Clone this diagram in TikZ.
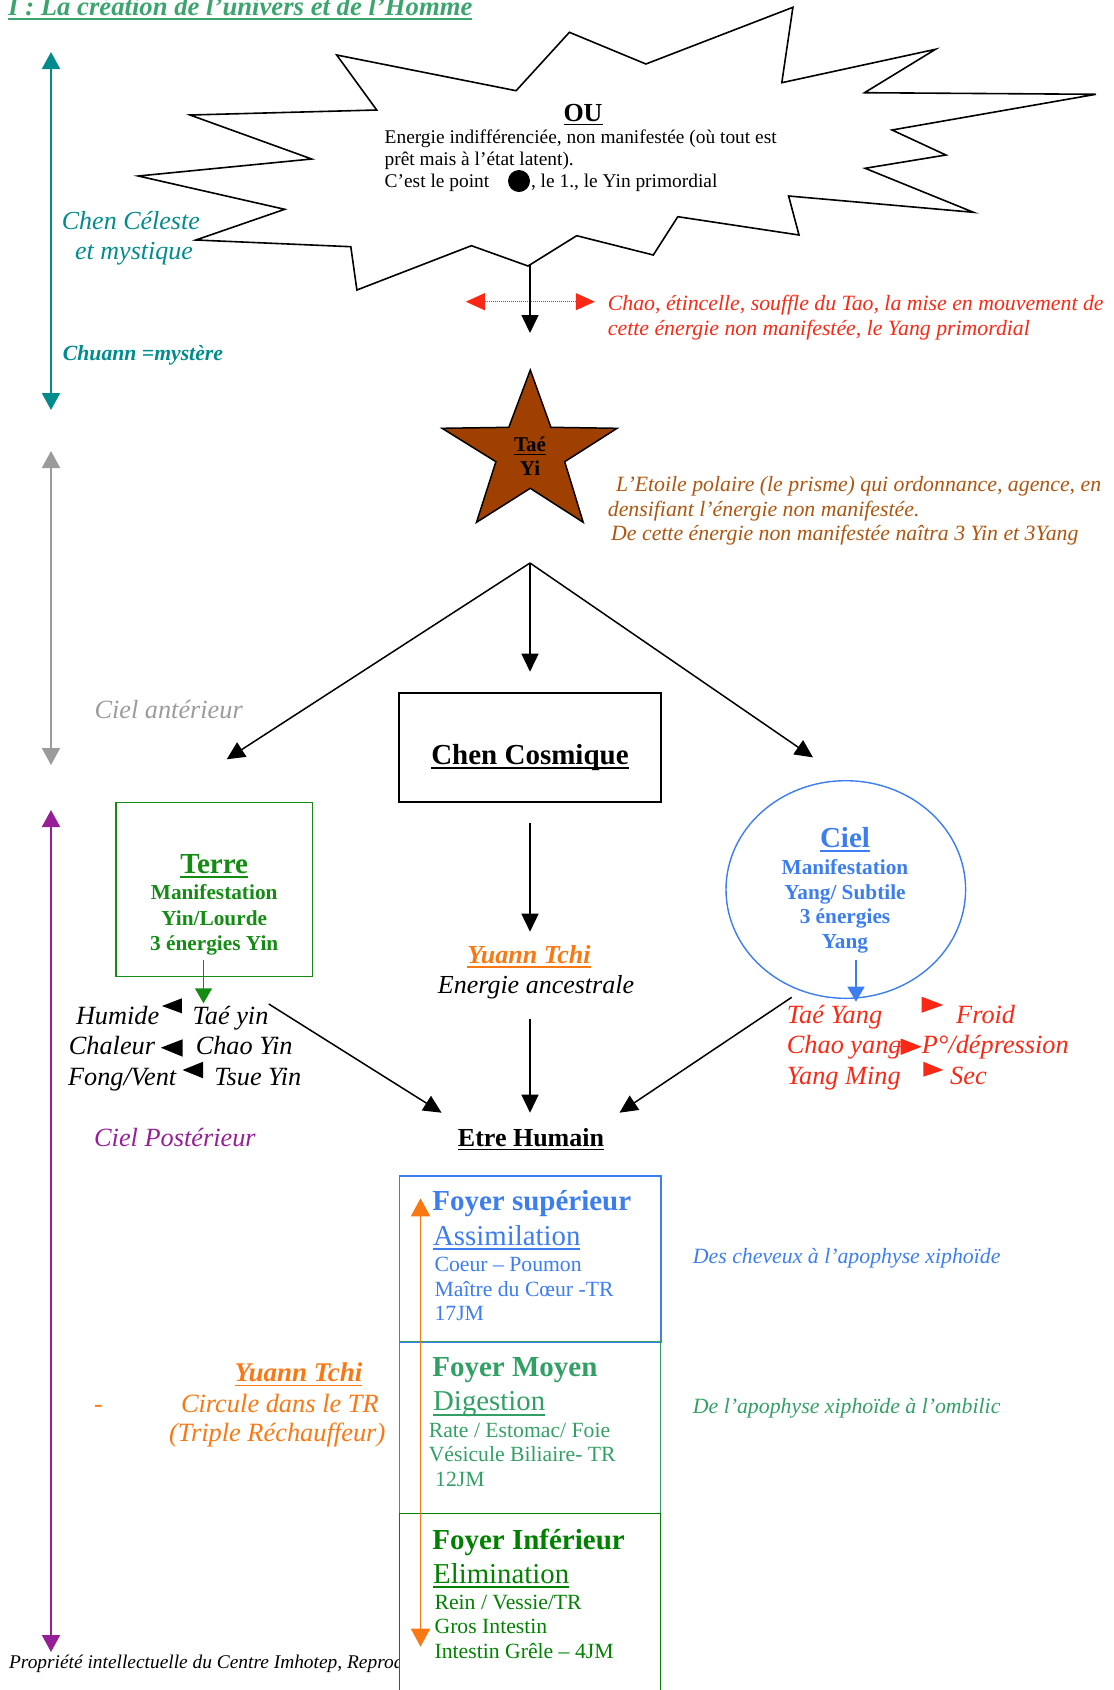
\documentclass[tikz,border=0pt]{standalone}
\usepackage{fontspec}
\setmainfont{Liberation Serif}
\usetikzlibrary{arrows.meta,shapes.geometric}
\definecolor{titlegreen}{RGB}{60,165,110}
\definecolor{teal1}{RGB}{0,140,140}
\definecolor{gray1}{RGB}{155,155,155}
\definecolor{purple1}{RGB}{150,30,150}
\definecolor{red1}{RGB}{250,40,20}
\definecolor{brown1}{RGB}{175,85,15}
\definecolor{starfill}{RGB}{160,64,0}
\definecolor{orange1}{RGB}{250,120,20}
\definecolor{green1}{RGB}{20,140,20}
\definecolor{green2}{RGB}{0,130,0}
\definecolor{blue1}{RGB}{60,125,240}
\definecolor{sea1}{RGB}{50,160,100}
\newcommand{\myul}[1]{\setbox0\hbox{#1}\rlap{\rule[-0.17em]{\wd0}{0.06em}}\box0}
\newcommand{\fs}[1]{\fontsize{#1}{#1}\selectfont}
\tikzset{
  txt/.style={inner sep=0pt, anchor=base west},
  ctxt/.style={inner sep=0pt, anchor=base},
  arr/.style={line width=1.5pt, -{Triangle[length=18pt,width=17pt]}},
  vside/.style={line width=2pt, {Triangle[length=17pt,width=18pt]}-{Triangle[length=17pt,width=18pt]}},
}
\begin{document}
\begin{tikzpicture}[x=1pt,y=-1pt]
\useasboundingbox (0,0) rectangle (1114,1690);

% title
\node[txt, text=titlegreen] (title) at (8,15) {\fs{26.7}\bfseries\itshape\myul{I : La création de l’univers et de l’Homme}};

% left vertical arrows
\coordinate (tealT) at (51,52); \coordinate (tealB) at (51,410);
\draw[vside, teal1] (tealT) -- (tealB);
\coordinate (grayT) at (51,451); \coordinate (grayB) at (51,765);
\draw[vside, gray1] (grayT) -- (grayB);
\coordinate (purT) at (51,810); \coordinate (purB) at (51,1652);
\draw[vside, purple1] (purT) -- (purB);

\node[txt, text=teal1] (chenc1) at (61.7,229) {\fs{26}\itshape Chen Céleste};
\node[txt, text=teal1] (chenc2) at (75,259.3) {\fs{26}\itshape et mystique};
\node[txt, text=teal1] (chuann) at (62.7,360) {\fs{21.7}\bfseries\itshape Chuann =mystère};
\node[txt, text=gray1] (cielant) at (94.3,718) {\fs{26.3}\itshape Ciel antérieur};
\node[txt, text=purple1] (cielpost) at (94,1146) {\fs{26.3}\itshape Ciel Postérieur};

% starburst
\draw[line width=1.6pt, fill=white, line join=miter]
  (336.7,55) -- (516.1,90.7) -- (569.4,32.3) -- (645.9,64) -- (792.9,7.3) -- (781.8,82.7)
  -- (935.5,49.3) -- (864.5,92.7) -- (1095.9,94.3) -- (892,130) -- (945.9,155) -- (865.1,168.3)
  -- (973.5,212.3) -- (788.6,196) -- (799,235) -- (677.8,216.7) -- (653.3,255) -- (576.7,235.7)
  -- (528,266) -- (471.4,245.7) -- (356.9,290) -- (350.8,246.7) -- (195.9,240) -- (284.7,209.3)
  -- (138.3,176) -- (311.7,159) -- (190,115) -- (376.7,110) -- cycle;
\coordinate (ouB) at (530,264);
\node[ctxt] (ou) at (583,121) {\fs{26}\bfseries\myul{OU}};
\node[txt] (ou1) at (384.5,143.3) {\fs{19.4}Energie indifférenciée, non manifestée (où tout est};
\node[txt] (ou2) at (384.5,165.7) {\fs{19.4}prêt mais à l’état latent).};
\node[txt] (ou3) at (384.5,187.7) {\fs{19.4}C’est le point};
\fill (519,181) circle (11);
\node[txt] (ou4) at (530.8,187.7) {\fs{19.4}, le 1., le Yin primordial};

% red dotted double arrow
\coordinate (rdL) at (465.8,301.7); \coordinate (rdR) at (594.8,301.7);
\draw[red1, line width=1pt, densely dotted, {Triangle[length=19pt,width=17pt]}-{Triangle[length=19pt,width=17pt]}] (rdL) -- (rdR);
\coordinate (ouArr) at (530,333);
\draw[arr] (ouB) -- (ouArr);
\node[txt, text=red1] (chao1) at (607.7,310) {\fs{21.8}\itshape Chao, étincelle, souffle du Tao, la mise en mouvement de};
\node[txt, text=red1] (chao2) at (607.7,335) {\fs{21.8}\itshape cette énergie non manifestée, le Yang primordial};

% star
\draw[line width=1.5pt, fill=starfill, line join=miter]
  (530.3,370) -- (550.9,427.3) -- (617.1,428.3) -- (564.7,461.7) -- (583.2,522.3)
  -- (530.3,488.3) -- (476.5,522.3) -- (495.9,461.7) -- (442.1,428.3) -- (508.8,427.3) -- cycle;
\node[ctxt] (tae) at (530,451.7) {\fs{21}\bfseries\myul{Taé}};
\node[ctxt] (yi) at (530,475) {\fs{21}\bfseries Yi};
\node[txt, text=brown1] (etoile1) at (616,491) {\fs{21.8}\itshape L’Etoile polaire (le prisme) qui ordonnance, agence, en};
\node[txt, text=brown1] (etoile2) at (607.7,516) {\fs{21.8}\itshape densifiant l’énergie non manifestée.};
\node[txt, text=brown1] (etoile3) at (611,540) {\fs{21.8}\itshape De cette énergie non manifestée naîtra 3 Yin et 3Yang};

% branches
\coordinate (apex) at (530,563);
\coordinate (tipL) at (226.7,759.3);
\coordinate (tipM) at (530,671.7);
\coordinate (tipR) at (813,757.4);
\draw[arr] (apex) -- (tipL);
\draw[arr] (apex) -- (tipM);
\draw[arr] (apex) -- (tipR);

% Chen Cosmique
\node[draw, line width=1.5pt, minimum width=262pt, minimum height=109pt, inner sep=0pt] (chen) at (530,747.7) {};
\node[ctxt] (chent) at (530,764) {\fs{29}\bfseries\myul{Chen Cosmique}};
\coordinate (chenB) at (530,822.7);
\coordinate (yuannT) at (530,931.7);
\draw[arr] (chenB) -- (yuannT);
\node[ctxt, text=orange1] (yuann) at (529,963.3) {\fs{26}\bfseries\itshape\myul{Yuann Tchi}};
\node[ctxt] (ancest) at (536,993) {\fs{26}\itshape Energie ancestrale};
\coordinate (ancB) at (530,1018.7);
\coordinate (humT) at (530,1112.7);
\draw[arr] (ancB) -- (humT);

% Terre
\node[draw=green1, line width=1.4pt, minimum width=196.2pt, minimum height=174pt, inner sep=0pt] (terre) at (214.2,889.7) {};
\node[ctxt, text=green1] (terre1) at (214.2,873) {\fs{29}\bfseries\myul{Terre}};
\node[ctxt, text=green1] (terre2) at (214.2,899.3) {\fs{21.3}\bfseries Manifestation};
\node[ctxt, text=green1] (terre3) at (214.2,925) {\fs{21.3}\bfseries Yin/Lourde};
\node[ctxt, text=green1] (terre4) at (214.2,950) {\fs{21.3}\bfseries 3 énergies Yin};
\coordinate (gA) at (203.5,960); \coordinate (gB) at (203.5,1003.3);
\draw[green1, line width=1.4pt, -{Triangle[length=15pt,width=17pt]}] (gA) -- (gB);

\node[txt] (humide) at (75.8,1024) {\fs{26.3}\itshape Humide};
\node[txt] (taeyin) at (192.5,1024) {\fs{26.3}\itshape Taé yin};
\node[txt] (chaleur) at (68.7,1054) {\fs{26.3}\itshape Chaleur};
\node[txt] (chaoyin) at (195.6,1054) {\fs{26.3}\itshape Chao Yin};
\node[txt] (fong) at (67.9,1085) {\fs{26.3}\itshape Fong/Vent};
\node[txt] (tsue) at (214.2,1085) {\fs{26.3}\itshape Tsue Yin};
\fill (162,1006) -- (181.8,998.3) -- (181.8,1013.3) -- cycle;
\fill (160.8,1047.7) -- (182.6,1039.3) -- (182.6,1056.7) -- cycle;
\fill (182.6,1070) -- (203.1,1061.7) -- (203.1,1078.3) -- cycle;
\coordinate (lA) at (268.8,1004); \coordinate (lB) at (441.6,1112.7);
\draw[arr] (lA) -- (lB);

% Ciel
\node[draw=blue1, ellipse, line width=1.4pt, minimum width=239.6pt, minimum height=217.6pt, inner sep=0pt] (ciel) at (845.8,889.5) {};
\node[ctxt, text=blue1] (ciel1) at (845,847) {\fs{29}\bfseries\myul{Ciel}};
\node[ctxt, text=blue1] (ciel2) at (845,874.3) {\fs{21.3}\bfseries Manifestation};
\node[ctxt, text=blue1] (ciel3) at (845,899.3) {\fs{21.3}\bfseries Yang/ Subtile};
\node[ctxt, text=blue1] (ciel4) at (845,923.3) {\fs{21.3}\bfseries 3 énergies};
\node[ctxt, text=blue1] (ciel5) at (845,948.3) {\fs{21.3}\bfseries Yang};
\coordinate (bA) at (856,960); \coordinate (bB) at (856,1001.7);
\draw[blue1, line width=1.4pt, -{Triangle[length=15pt,width=17pt]}] (bA) -- (bB);

\node[txt, text=red1] (taeyang) at (786.7,1023) {\fs{26.3}\itshape Taé Yang};
\node[txt, text=red1] (froid) at (956,1023) {\fs{26.3}\itshape Froid};
\node[txt, text=red1] (chaoyang) at (786.7,1053) {\fs{26.3}\itshape Chao yang};
\node[txt, text=red1] (depr) at (921.7,1053) {\fs{26.3}\itshape P°/dépression};
\node[txt, text=red1] (yangming) at (786.7,1084) {\fs{26.3}\itshape Yang Ming};
\node[txt, text=red1] (sec) at (950,1084) {\fs{26.3}\itshape Sec};
\fill[red1] (921.7,996.7) -- (943.3,1005) -- (921.7,1012.7) -- cycle;
\coordinate (cyA) at (893,1046.7); \coordinate (cyB) at (921.7,1046.7);
\draw[red1, line width=1.5pt, -{Triangle[length=21pt,width=16pt]}] (cyA) -- (cyB);
\fill[red1] (923.3,1061.7) -- (943.3,1070) -- (923.3,1076.7) -- cycle;
\coordinate (rA) at (791.7,997.3); \coordinate (rB) at (619.5,1112.7);
\draw[arr] (rA) -- (rB);

% Etre Humain
\node[ctxt] (humain) at (531,1146) {\fs{26}\bfseries\myul{Etre Humain}};

% footer (hidden behind the boxes)
\begin{scope}
\clip (0,1640) rectangle (399.6,1690);
\node[txt] (footer) at (8.9,1668) {\fs{19.4}\itshape Propriété intellectuelle du Centre Imhotep, Reproduction interdite};
\end{scope}

% Foyer boxes
\node[draw=blue1, line width=1.6pt, minimum width=261.1pt, minimum height=166pt, inner sep=0pt] (foy1) at (530.15,1258.7) {};
\node[draw=sea1, line width=1.4pt, minimum width=261.1pt, minimum height=171.6pt, inner sep=0pt] (foy2) at (530.15,1427.5) {};
\node[draw=green2, line width=1.4pt, minimum width=261.1pt, minimum height=180pt, inner sep=0pt] (foy3) at (530.15,1603.3) {};

\coordinate (oT) at (420.5,1198.3); \coordinate (oB) at (420.5,1646.7);
\draw[orange1, line width=1.6pt, {Triangle[length=18pt,width=19pt]}-{Triangle[length=18pt,width=19pt]}] (oT) -- (oB);

\node[txt, text=blue1] (f1a) at (432.1,1210.5) {\fs{29}\bfseries Foyer supérieur};
\node[txt, text=blue1] (f1b) at (433,1245) {\fs{28.8}\myul{Assimilation}};
\node[txt, text=blue1] (f1c) at (434.4,1271.7) {\fs{21.7}Coeur – Poumon};
\node[txt, text=blue1] (f1d) at (434.4,1296) {\fs{21.7}Maître du Cœur -TR};
\node[txt, text=blue1] (f1e) at (434.4,1320.7) {\fs{21.7}17JM};

\node[txt, text=sea1] (f2a) at (432.1,1376.7) {\fs{29}\bfseries Foyer Moyen};
\node[txt, text=sea1] (f2b) at (433,1410.7) {\fs{28.8}\myul{Digestion}};
\node[txt, text=sea1] (f2c) at (428.6,1437.3) {\fs{21.7}Rate / Estomac/ Foie};
\node[txt, text=sea1] (f2d) at (428.6,1461.7) {\fs{21.7}Vésicule Biliaire- TR};
\node[txt, text=sea1] (f2e) at (435,1486.7) {\fs{21.7}12JM};

\node[txt, text=green2] (f3a) at (432.1,1549.3) {\fs{29}\bfseries Foyer Inférieur};
\node[txt, text=green2] (f3b) at (433,1583.3) {\fs{28.8}\myul{Elimination}};
\node[txt, text=green2] (f3c) at (434.4,1609.3) {\fs{21.7}Rein / Vessie/TR};
\node[txt, text=green2] (f3d) at (434.4,1633.3) {\fs{21.7}Gros Intestin};
\node[txt, text=green2] (f3e) at (434.4,1658.3) {\fs{21.7}Intestin Grêle – 4JM};

\node[txt, text=blue1] (desch) at (692.7,1263.3) {\fs{21.8}\itshape Des cheveux à l’apophyse xiphoïde};
\node[txt, text=sea1] (deapo) at (692.7,1413.3) {\fs{21.8}\itshape De l’apophyse xiphoïde à l’ombilic};

% left orange labels
\node[txt, text=orange1] (yuann2) at (234.4,1381.7) {\fs{27}\bfseries\itshape\myul{Yuann Tchi}};
\node[txt, text=orange1] (dash) at (94,1412) {\fs{26}-};
\node[txt, text=orange1] (circ) at (180.8,1412.3) {\fs{26.4}\itshape Circule dans le TR};
\node[txt, text=orange1] (trip) at (168.8,1441.7) {\fs{26.4}\itshape (Triple Réchauffeur)};
\end{tikzpicture}
\end{document}
